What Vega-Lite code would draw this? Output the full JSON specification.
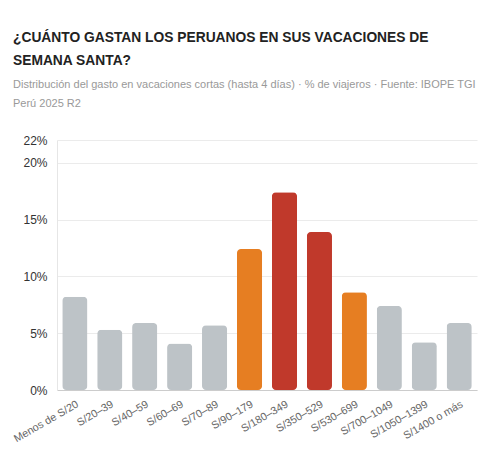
{
  "$schema": "https://vega.github.io/schema/vega-lite/v6.json",
  "autosize": {"type": "none"},
  "padding": {"left": 57, "top": 140, "right": 15, "bottom": 71},
  "width": 420,
  "height": 250,
  "background": "#ffffff",
  "title": {
    "text": ["¿CUÁNTO GASTAN LOS PERUANOS EN SUS VACACIONES DE", "SEMANA SANTA?"],
    "subtitle": ["Distribución del gasto en vacaciones cortas (hasta 4 días) · % de viajeros · Fuente: IBOPE TGI", "Perú 2025 R2"],
    "anchor": "start",
    "frame": "group",
    "dx": -44,
    "offset": 25,
    "font": "Liberation Sans",
    "fontSize": 13.8,
    "fontWeight": "bold",
    "color": "#222222",
    "lineHeight": 23,
    "subtitleFont": "Liberation Sans",
    "subtitleFontSize": 11,
    "subtitleColor": "#999999",
    "subtitleLineHeight": 19,
    "subtitlePadding": 11
  },
  "data": {
    "values": [
      {"rango": "Menos de S/20", "pct": 8.2, "grupo": "resto"},
      {"rango": "S/20–39", "pct": 5.3, "grupo": "resto"},
      {"rango": "S/40–59", "pct": 5.9, "grupo": "resto"},
      {"rango": "S/60–69", "pct": 4.1, "grupo": "resto"},
      {"rango": "S/70–89", "pct": 5.7, "grupo": "resto"},
      {"rango": "S/90–179", "pct": 12.4, "grupo": "medio"},
      {"rango": "S/180–349", "pct": 17.4, "grupo": "alto"},
      {"rango": "S/350–529", "pct": 13.9, "grupo": "alto"},
      {"rango": "S/530–699", "pct": 8.6, "grupo": "medio"},
      {"rango": "S/700–1049", "pct": 7.4, "grupo": "resto"},
      {"rango": "S/1050–1399", "pct": 4.2, "grupo": "resto"},
      {"rango": "S/1400 o más", "pct": 5.9, "grupo": "resto"}
    ]
  },
  "mark": {"type": "bar", "cornerRadius": 4},
  "encoding": {
    "x": {
      "field": "rango",
      "type": "nominal",
      "sort": null,
      "scale": {"paddingInner": 0.28, "paddingOuter": 0.15},
      "axis": {
        "title": null,
        "labelAngle": -30,
        "labelAlign": "right",
        "labelBaseline": "top",
        "labelFont": "Liberation Sans",
        "labelFontSize": 10.8,
        "labelColor": "#666666",
        "labelPadding": 8,
        "ticks": false,
        "domainColor": "#cccccc",
        "grid": false
      }
    },
    "y": {
      "field": "pct",
      "type": "quantitative",
      "scale": {"domain": [0, 22], "nice": false},
      "axis": {
        "title": null,
        "values": [0, 5, 10, 15, 20, 22],
        "labelExpr": "datum.value + '%'",
        "labelFont": "Liberation Sans",
        "labelFontSize": 12,
        "labelColor": "#333333",
        "labelPadding": 10,
        "ticks": false,
        "domainColor": "#e6e6e6",
        "gridColor": "#ebebeb"
      }
    },
    "color": {
      "field": "grupo",
      "type": "nominal",
      "scale": {"domain": ["resto", "medio", "alto"], "range": ["#bdc3c7", "#e67e22", "#c0392b"]},
      "legend": null
    }
  },
  "config": {"view": {"stroke": null}}
}
